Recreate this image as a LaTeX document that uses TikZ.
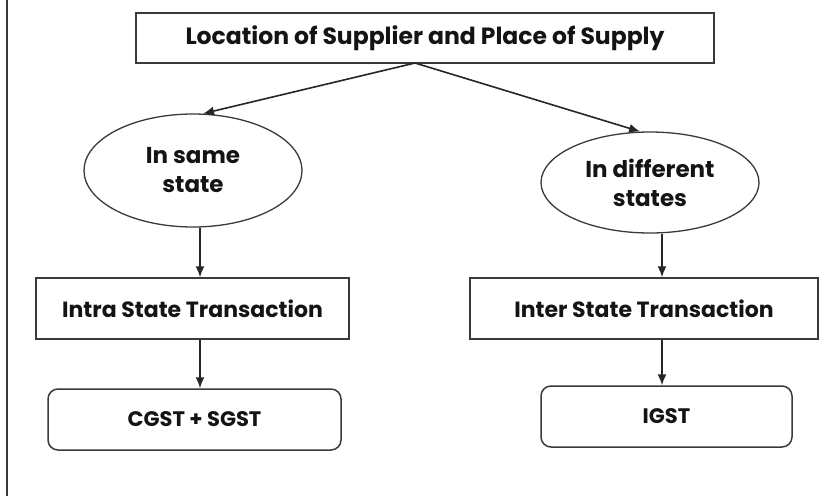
\documentclass[tikz,border=0pt]{standalone}
\usepackage{fontspec}
\setmainfont{Poppins}
\usetikzlibrary{shapes.geometric,arrows.meta,calc}
\definecolor{linec}{HTML}{3A3A3A}
\definecolor{textc}{HTML}{141414}
\tikzset{
  boxsq/.style={draw=linec, line width=1.5pt, rectangle, inner sep=0pt, fill=white,
    font=\fontsize{22}{26}\selectfont\bfseries, text=textc},
  boxrd/.style={boxsq, rounded corners=10pt, font=\fontsize{21}{25}\selectfont\bfseries},
  oval/.style={draw=linec, line width=1.3pt, ellipse, inner sep=0pt, fill=white, align=center,
    font=\fontsize{23}{29}\selectfont\bfseries, text=textc},
  arr/.style={draw=black!85, line width=1.6pt, -{Latex[length=11pt,width=9pt]}},
}
\begin{document}
\begin{tikzpicture}[x=1pt,y=-1pt]
\useasboundingbox (0,0) rectangle (827,496);
\fill[white] (0,0) rectangle (827,496);
\draw[linec, line width=1.2pt] (7,0) -- (7,496);

\node[boxsq, minimum width=578pt, minimum height=50pt, font=\fontsize{23.5}{28}\selectfont\bfseries] (top) at (425,38) {Location of Supplier and Place of Supply};
\node[oval, minimum width=218pt, minimum height=113pt] (l1) at (193,170.5) {In same\\state};
\node[oval, minimum width=218pt, minimum height=101pt] (r1) at (650,182.5) {In different\\states};
\node[boxsq, minimum width=313pt, minimum height=61pt] (ib) at (192.5,308.5) {Intra State Transaction};
\node[boxsq, minimum width=348pt, minimum height=61pt] (eb) at (644,308.5) {Inter State Transaction};
\node[boxrd, minimum width=293pt, minimum height=61pt] (cg) at (194.5,419.5) {CGST + SGST};
\node[boxrd, minimum width=251pt, minimum height=61pt] (ig) at (666.5,416.5) {IGST};

\coordinate (src) at (415,63);
\coordinate (cx1) at (200,0);
\coordinate (cx2) at (662,0);

\draw[arr] (src) -- (l1.80);
\draw[arr] (src) -- (r1.101);
\draw[arr] (l1.south -| cx1) -- (ib.north -| cx1);
\draw[arr] (ib.south -| cx1) -- (cg.north -| cx1);
\draw[arr] (r1.south -| cx2) -- (eb.north -| cx2);
\draw[arr] (eb.south -| cx2) -- (ig.north -| cx2);
\end{tikzpicture}
\end{document}
